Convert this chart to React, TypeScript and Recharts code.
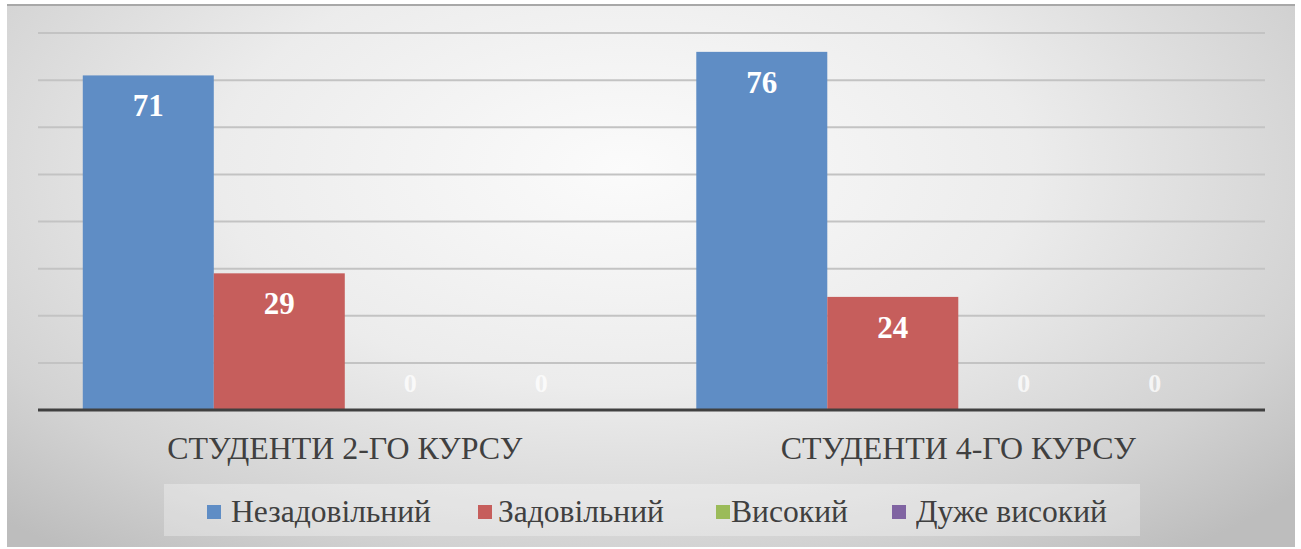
import React from "react";
import { BarChart, Bar, XAxis, YAxis, CartesianGrid } from "recharts";

const categories = ["СТУДЕНТИ  2-ГО КУРСУ", "СТУДЕНТИ  4-ГО КУРСУ"];
const seriesNames = ["Незадовільний", "Задовільний", "Високий", "Дуже високий"];
const nezadovilnyi = [71, 76];
const zadovilnyi = [29, 24];
const vysokyi = [0, 0];
const duzheVysokyi = [0, 0];
const seriesColors = ["#5f8dc5", "#c65e5c", "#9bbb59", "#8064a2"];
const yTicks = [0, 10, 20, 30, 40, 50, 60, 70, 80];

const seriesValues = [nezadovilnyi, zadovilnyi, vysokyi, duzheVysokyi];
const data = categories.map((name, i) => ({
  name,
  s0: seriesValues[0][i],
  s1: seriesValues[1][i],
  s2: seriesValues[2][i],
  s3: seriesValues[3][i],
}));

const FONT = "'Liberation Serif', 'Times New Roman', serif";

// bar + its value label drawn together so zero bars still get a label
function BarWithLabel(props: any) {
  const { x, y, width, height, fill, value } = props;
  const v = Array.isArray(value) ? value[1] - value[0] : value;
  const cx = Number(x) + Number(width) / 2;
  const h = Math.abs(Number(height) || 0);
  return (
    <g>
      {h > 0 && <rect x={x} y={y} width={width} height={h} fill={fill} />}
      {v ? (
        <text x={cx} y={Number(y) + 41} textAnchor="middle" style={{ fontFamily: FONT }}
          fontSize={31} fontWeight="bold" fill="#ffffff">
          {v}
        </text>
      ) : (
        <text x={cx} y={Number(y) + h - 18} textAnchor="middle" style={{ fontFamily: FONT }}
          fontSize={26} fontWeight="bold" fill="#ffffff" fillOpacity={0.75}
          textLength={13} lengthAdjust="spacingAndGlyphs">
          0
        </text>
      )}
    </g>
  );
}

function CategoryTick(props: any) {
  const { x, y, payload } = props;
  return (
    <text x={x} y={Number(y) + 49} textAnchor="middle" style={{ fontFamily: FONT }}
      fontSize={31} fill="#404040" textLength={355} lengthAdjust="spacingAndGlyphs">
      {payload.value}
    </text>
  );
}

const legendItems = [
  { sq: 207, tx: 231, w: 200 },
  { sq: 478, tx: 498, w: 166 },
  { sq: 716, tx: 731, w: 117 },
  { sq: 892, tx: 916, w: 191 },
];

export default function App() {
  return (
    <div style={{ position: "absolute", left: 0, top: 0, width: 1301, height: 549, background: "#ffffff" }}>
      <div
        style={{
          position: "absolute",
          left: 7,
          top: 4,
          width: 1288,
          height: 543,
          borderTop: "2px solid #a8a8a8",
          boxSizing: "border-box",
          background: "radial-gradient(ellipse 70% 90% at 48% 30%, #fbfbfb 0%, #ececec 45%, #d2d2d2 80%, #bdbdbd 100%)",
        }}
      />
      <div style={{ position: "absolute", left: 7, top: 4 }}>
        <BarChart
          width={1288}
          height={542}
          data={data}
          margin={{ top: 29, right: 30, left: 31, bottom: 0 }}
          barCategoryGap="7.3%"
          barGap={0}
        >
          <CartesianGrid vertical={false} stroke="#c3c3c3" strokeWidth={2} />
          <YAxis hide domain={[0, 80]} ticks={yTicks} />
          <XAxis
            dataKey="name"
            height={136}
            axisLine={{ stroke: "#404040", strokeWidth: 3 }}
            tickLine={false}
            tickSize={0}
            tickMargin={0}
            tick={<CategoryTick />}
            interval={0}
          />
          {seriesNames.map((n, i) => (
            <Bar key={n} dataKey={`s${i}`} name={n} fill={seriesColors[i]}
              isAnimationActive={false} shape={<BarWithLabel />} />
          ))}
        </BarChart>
      </div>
      <div
        style={{
          position: "absolute",
          left: 164,
          top: 484,
          width: 976,
          height: 52,
          background: "rgba(255,255,255,0.3)",
        }}
      />
      {seriesNames.map((n, i) => (
        <React.Fragment key={n}>
          <div
            style={{
              position: "absolute",
              left: legendItems[i].sq,
              top: 505,
              width: 14,
              height: 14,
              background: seriesColors[i],
            }}
          />
          <svg style={{ position: "absolute", left: legendItems[i].tx, top: 490 }} width={legendItems[i].w + 4} height={44}>
            <text x={0} y={32} style={{ fontFamily: FONT }} fontSize={31} fill="#404040"
              textLength={legendItems[i].w} lengthAdjust="spacingAndGlyphs">
              {n}
            </text>
          </svg>
        </React.Fragment>
      ))}
    </div>
  );
}
